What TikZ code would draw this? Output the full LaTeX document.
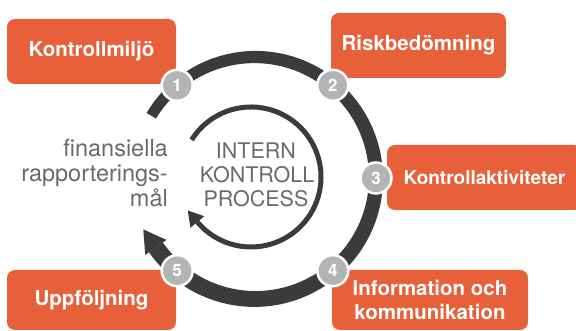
\documentclass[tikz,border=0pt]{standalone}
\usepackage{fontspec}
\setmainfont{TeX Gyre Heros}
\usetikzlibrary{calc}
\definecolor{orng}{HTML}{E8603A}
\definecolor{ringc}{HTML}{3B3B3A}
\definecolor{numgray}{HTML}{B4B4B4}
\definecolor{txtgray}{HTML}{6A6A6A}
\tikzset{
  obox/.style={fill=orng, rounded corners=8pt, text=white, inner sep=0pt,
    align=center, font=\bfseries\fontsize{20.5}{24}\selectfont},
  numc/.style={circle, fill=numgray, draw=white, line width=2.5pt, minimum size=31pt,
    inner sep=0pt, text=white, font=\bfseries\fontsize{17}{17}\selectfont},
  graytxt/.style={text=txtgray, inner sep=0pt, font=\fontsize{23.5}{25}\selectfont},
  innertxt/.style={text=txtgray, inner sep=0pt, font=\fontsize{21.5}{24}\selectfont, anchor=base}
}
\begin{document}
\begin{tikzpicture}[x=1pt,y=1pt]
\useasboundingbox (0,0) rectangle (576,331);
% boxes
\node[obox, minimum width=169pt, minimum height=65pt] (b1) at (91.5,279.5) {Kontrollmiljö};
\node[obox, minimum width=175pt, minimum height=65pt] (b2) at (418.5,285.5) {Riskbedömning};
\node[obox, minimum width=195pt, minimum height=65pt, font=\bfseries\fontsize{19}{24}\selectfont] (b3) at (484.5,153.5) {Kontrollaktiviteter};
\node[obox, minimum width=196pt, minimum height=60pt] (b4) at (430,31) {Information och\\kommunikation};
\node[obox, minimum width=169pt, minimum height=60pt] (b5) at (91.5,31) {Uppföljning};
% outer ring
\coordinate (C) at (255,153);
\begin{scope}[shift={(C)}]
  \fill[ringc] plot[domain=149:-145, samples=90] (\x:{121+(11+6*(149-\x)/294)/2})
     -- plot[domain=-145:149, samples=90] (\x:{121-(11+6*(149-\x)/294)/2}) -- cycle;
  \fill[ringc] (-145:134) -- ($(-145:121)+(-235:22)$) -- (-145:108) -- cycle;
\end{scope}
% inner ring
\coordinate (D) at (251,154);
\begin{scope}[shift={(D)}]
  \draw[ringc, line width=5pt] (148:70) arc[start angle=148, end angle=-140, radius=70];
  \fill[ringc] (-140:79) -- ($(-140:70)+(-230:15)$) -- (-140:61) -- cycle;
\end{scope}
% number circles
\node[numc] (n1) at ($(C)+(130:121)$) {1};
\node[numc] (n2) at ($(C)+(50:121)$) {2};
\node[numc] (n3) at ($(C)+(0:121)$) {3};
\node[numc] (n4) at ($(C)+(-50:121)$) {4};
\node[numc] (n5) at ($(C)+(-130:121)$) {5};
% left text
\node[graytxt, anchor=base east] (f1) at (168,174) {finansiella};
\node[graytxt, anchor=base east] (f2) at (168,149) {rapporterings-};
\node[graytxt, anchor=base east] (f3) at (168,124) {mål};
% center text
\node[innertxt] (i1) at (256,172) {INTERN};
\node[innertxt] (i2) at (257,148) {KONTROLL};
\node[innertxt] (i3) at (256,124) {PROCESS};
\end{tikzpicture}
\end{document}
